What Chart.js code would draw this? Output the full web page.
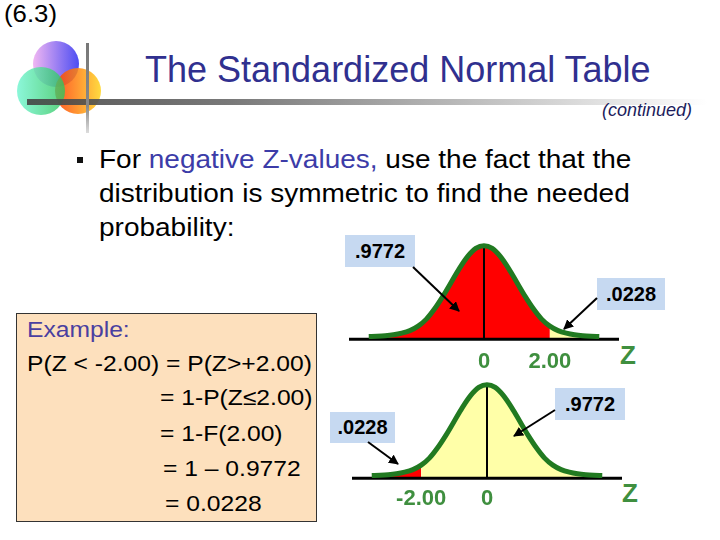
<!DOCTYPE html>
<html>
<head>
<meta charset="utf-8">
<script src="https://cdn.jsdelivr.net/npm/chart.js@4.4.1/dist/chart.umd.min.js"></script>
<style>
  body { margin: 0; }
  #slide { position: relative; width: 720px; height: 540px; background: #fff; overflow: hidden;
           font-family: "Liberation Sans", Arial, sans-serif; }
  .t { position: absolute; white-space: nowrap; }
  .wide { transform: scaleX(1.12); transform-origin: 0 50%; }
  .tag { position: absolute; background: #c6d9f1; font-weight: bold; font-size: 20px;
         text-align: center; z-index: 3; }
  canvas { position: absolute; z-index: 1; }
</style>
</head>
<body>
<div id="slide">
  <svg width="720" height="140" style="position:absolute;left:0;top:0;z-index:0">
    <defs>
      <linearGradient id="gPurple" x1="0" x2="1" y1="0" y2="0">
        <stop offset="0" stop-color="#eeaaf0"/><stop offset="1" stop-color="#2e2ef0"/>
      </linearGradient>
      <linearGradient id="gGreen" x1="0" x2="1" y1="0" y2="0">
        <stop offset="0" stop-color="#6ff5d0"/><stop offset="1" stop-color="#2fc45a"/>
      </linearGradient>
      <linearGradient id="gOrange" x1="0" x2="1" y1="0" y2="0">
        <stop offset="0" stop-color="#ff3a00"/><stop offset="1" stop-color="#ffd41e"/>
      </linearGradient>
      <linearGradient id="gBar" x1="0" x2="1" y1="0" y2="0">
        <stop offset="0" stop-color="#444"/><stop offset="0.3" stop-color="#6a6a6a"/><stop offset="1" stop-color="#fff"/>
      </linearGradient>
      <linearGradient id="gVert" x1="0" x2="0" y1="0" y2="1">
        <stop offset="0" stop-color="#777"/><stop offset="0.7" stop-color="#888"/><stop offset="1" stop-color="#ddd"/>
      </linearGradient>
    </defs>
    <circle cx="56" cy="64" r="23" fill="url(#gPurple)" opacity="0.85"/>
    <circle cx="78" cy="91" r="23" fill="url(#gOrange)" opacity="0.85"/>
    <circle cx="41" cy="91" r="24" fill="url(#gGreen)" opacity="0.8"/>
    <rect x="27" y="99" width="680" height="6" fill="url(#gBar)" opacity="0.9"/>
    <rect x="86" y="43" width="3" height="90" fill="url(#gVert)"/>
  </svg>

  <div class="t wide" style="left:4px;top:1px;font-size:23px;line-height:27px;">(6.3)</div>
  <div class="t" style="left:145px;top:48px;font-size:36px;line-height:43px;color:#30308f;">The Standardized Normal Table</div>
  <div class="t" style="left:602px;top:99px;font-size:18px;line-height:22px;font-style:italic;color:#1c1c5c;">(continued)</div>

  <div style="position:absolute;left:77px;top:157px;width:6px;height:6px;background:#111;"></div>
  <div class="t wide" style="left:99px;top:142px;font-size:25px;line-height:34px;">For <span style="color:#3c3ca8">negative Z-values,</span> use the fact that the</div>
  <div class="t wide" style="left:99px;top:176px;font-size:25px;line-height:34px;">distribution is symmetric to find the needed</div>
  <div class="t wide" style="left:99px;top:210px;font-size:25px;line-height:34px;">probability:</div>

  <div style="position:absolute;left:16px;top:313px;width:299px;height:207px;background:#fde0bd;border:1px solid #333;"></div>
  <div class="t wide" style="left:27px;top:313px;font-size:22px;line-height:34px;color:#4a3fa0;">Example:</div>
  <div class="t wide" style="left:27px;top:347px;font-size:22px;line-height:34px;">P(Z &lt; -2.00) = P(Z&gt;+2.00)</div>
  <div class="t wide" style="left:160px;top:381px;font-size:22px;line-height:34px;">= 1-P(Z≤2.00)</div>
  <div class="t wide" style="left:160px;top:417px;font-size:22px;line-height:34px;">= 1-F(2.00)</div>
  <div class="t wide" style="left:163px;top:452px;font-size:22px;line-height:34px;">= 1 – 0.9772</div>
  <div class="t wide" style="left:165px;top:487px;font-size:22px;line-height:34px;">= 0.0228</div>

  <canvas id="topCurve" width="270" height="140" style="left:349px;top:236px;"></canvas>
  <canvas id="bottomCurve" width="270" height="140" style="left:352px;top:375px;"></canvas>

  <div class="tag" style="left:345px;top:235px;width:70px;height:32px;line-height:32px;">.9772</div>
  <div class="tag" style="left:597px;top:278px;width:68px;height:32px;line-height:32px;">.0228</div>
  <div class="tag" style="left:330px;top:412px;width:65px;height:31px;line-height:31px;">.0228</div>
  <div class="tag" style="left:555px;top:388px;width:70px;height:32px;line-height:32px;">.9772</div>

  <div class="t" style="left:620px;top:340px;font-size:26px;line-height:30px;font-weight:bold;color:#3f8f3f;">Z</div>
  <div class="t" style="left:622px;top:478px;font-size:26px;line-height:30px;font-weight:bold;color:#3f8f3f;">Z</div>

  <svg width="720" height="540" style="position:absolute;left:0;top:0;z-index:4">
    <defs>
      <marker id="head" viewBox="0 0 10 10" refX="9" refY="5" markerWidth="5" markerHeight="5" orient="auto">
        <path d="M0,0 L10,5 L0,10 z" fill="#000"/>
      </marker>
    </defs>
    <g stroke="#000" stroke-width="2" marker-end="url(#head)">
      <line x1="413" y1="267" x2="459" y2="311"/>
      <line x1="597" y1="298" x2="564" y2="329"/>
      <line x1="368" y1="442" x2="398" y2="464"/>
      <line x1="555" y1="410" x2="514" y2="436"/>
    </g>
  </svg>
</div>

<script>
// z positions along the axis and the curve heights
const zSteps = [-3.5, -3.25, -3, -2.75, -2.5, -2.25, -2, -1.75, -1.5, -1.25, -1, -0.75, -0.5, -0.25,
                0, 0.25, 0.5, 0.75, 1, 1.25, 1.5, 1.75, 2, 2.25, 2.5, 2.75, 3, 3.25, 3.5];
const curveHeights = [0.012, 0.013, 0.015, 0.019, 0.026, 0.037, 0.056, 0.086, 0.130, 0.183, 0.242, 0.301, 0.352, 0.387,
                      0.399, 0.387, 0.352, 0.301, 0.242, 0.183, 0.130, 0.086, 0.056, 0.037, 0.026, 0.019, 0.015, 0.013, 0.012];
const peakHeight = 0.399;
const axisRange = [-4.1, 4.1];

const topSplit = 2.00;
const topTicks = [0, 2];
const topTickLabels = ['0', '2.00'];

const bottomSplit = -2.00;
const bottomTicks = [-2, 0];
const bottomTickLabels = ['-2.00', '0'];

const RED = '#ff0000';
const YELLOW = '#ffffa8';
const GREEN = '#217a21';

function drawCurve(id, split, leftColor, rightColor, ticks, labels, tickPad) {
    const pts = zSteps.map((z, i) => ({ x: z, y: curveHeights[i] }));
    const area = (data, color) => ({
        data, fill: 'origin', backgroundColor: color, borderColor: 'rgba(0,0,0,0)',
        borderWidth: 0, pointRadius: 0, cubicInterpolationMode: 'monotone', order: 5
    });
    new Chart(document.getElementById(id), {
        type: 'line',
        data: {
            datasets: [
                area(pts.filter(p => p.x <= split), leftColor),
                area(pts.filter(p => p.x >= split), rightColor),
                { data: pts, borderColor: GREEN, borderWidth: 5, fill: false, pointRadius: 0,
                  cubicInterpolationMode: 'monotone', borderCapStyle: 'butt', order: 1 },
                { data: [{ x: 0, y: 0 }, { x: 0, y: peakHeight }], borderColor: '#000', borderWidth: 2,
                  pointRadius: 0, fill: false, order: 2 },
                { data: [{ x: axisRange[0], y: 0 }, { x: axisRange[1], y: 0 }], borderColor: '#000', borderWidth: 3,
                  pointRadius: 0, fill: false, order: 3 }
            ]
        },
        options: {
            responsive: false,
            animation: false,
            events: [],
            layout: { padding: 0 },
            plugins: { legend: { display: false }, tooltip: { enabled: false } },
            scales: {
                x: {
                    type: 'linear', min: axisRange[0], max: axisRange[1],
                    grid: { display: false, drawTicks: false },
                    border: { display: false },
                    afterBuildTicks: s => { s.ticks = ticks.map(v => ({ value: v })); },
                    afterFit: s => { s.height = 32; },
                    ticks: {
                        autoSkip: false, maxRotation: 0, padding: tickPad,
                        color: '#3f8f3f',
                        font: { family: 'Liberation Sans', size: 22, weight: 'bold' },
                        callback: v => labels[ticks.indexOf(v)]
                    }
                },
                y: { display: false, min: -0.02, max: 0.44 }
            }
        }
    });
}

drawCurve('topCurve', topSplit, RED, YELLOW, topTicks, topTickLabels, 5);
drawCurve('bottomCurve', bottomSplit, RED, YELLOW, bottomTicks, bottomTickLabels, 3);
</script>
</body>
</html>
